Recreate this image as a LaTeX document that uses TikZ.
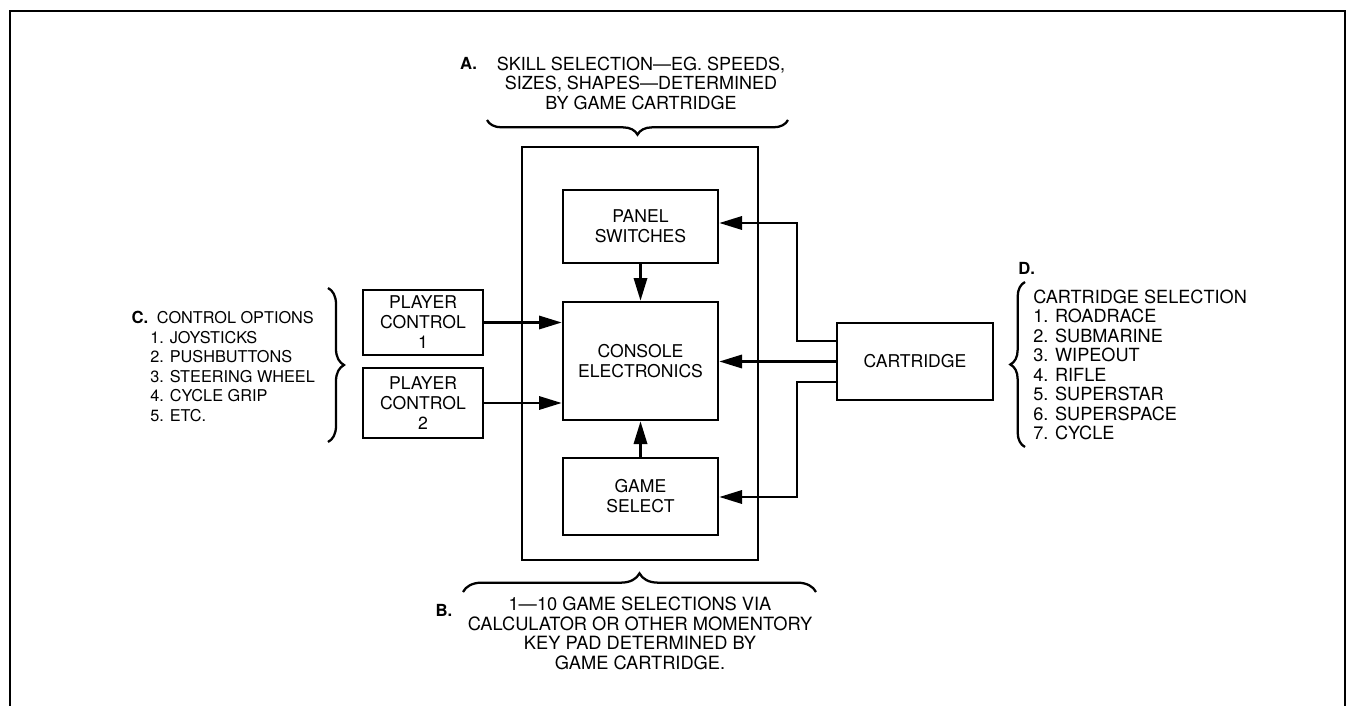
\documentclass[tikz,border=0pt]{standalone}
\usepackage{fontspec}
\setmainfont{TeX Gyre Heros}
\usetikzlibrary{arrows.meta,decorations.pathreplacing}
\begin{document}
\begin{tikzpicture}[x=0.75pt,y=-0.75pt,
  every node/.style={font=\fontsize{13.5}{14.7}\selectfont, inner sep=0pt},
  box/.style={draw, line width=2pt, align=center, inner sep=0pt,
              font=\fontsize{13.2}{15}\selectfont},
  conn/.style={line width=1.7pt},
  arr/.style={conn, -{Triangle[length=17pt,width=10pt]}},
  brc/.style={decorate, decoration={brace, amplitude=#1}, line width=1.7pt},
  lbl/.style={font=\fontsize{12.5}{14.7}\selectfont\bfseries},
  txt/.style={align=left},
]
\useasboundingbox (0,0) rectangle (1353,706);
% frame
\draw[line width=1.6pt] (10,706) -- (10,11) -- (1345,11) -- (1345,706);

% boxes
\node[box, minimum width=177pt, minimum height=309.75pt] (outer) at (640,353.5) {};
\node[box, minimum width=116.25pt, minimum height=54.75pt] (panel) at (640.5,226.5) {PANEL\\SWITCHES};
\node[box, minimum width=116.25pt, minimum height=88.5pt] (console) at (640.5,361) {CONSOLE\\ELECTRONICS};
\node[box, minimum width=116.25pt, minimum height=57.75pt] (game) at (640.5,496.5) {GAME\\SELECT};
\node[box, minimum width=90pt, minimum height=48.75pt] (pc1) at (423,322.5) {PLAYER\\CONTROL\\1};
\node[box, minimum width=90pt, minimum height=52.5pt] (pc2) at (423,403) {PLAYER\\CONTROL\\2};
\node[box, minimum width=117pt, minimum height=57.75pt] (cart) at (915,361.5) {CARTRIDGE};

% connectors
\draw[arr] (panel.south) -- (console.north);
\draw[arr] (game.north) -- (console.south);
\draw[arr] (pc1.east) -- (pc1.east -| console.west);
\draw[arr] (pc2.east) -- (pc2.east -| console.west);
\draw[arr] (cart.west) -- (cart.west -| console.east);
\coordinate (vx) at (797,0);
\coordinate (y1) at (0,341);
\coordinate (y2) at (0,223);
\coordinate (y3) at (0,382);
\coordinate (y4) at (0,497);
\draw[arr] (cart.west |- y1) -| (vx |- y2) -- (panel.east |- y2);
\draw[arr] (cart.west |- y3) -| (vx |- y4) -- (game.east |- y4);

% braces
\draw[brc=11pt] (788,120) -- (487,120);
\draw[brc=14pt] (463,592) -- (816,592);
\draw[brc=12pt] (328,288) -- (328,442);
\draw[brc=11pt] (1025,447) -- (1025,282);

% texts
\node[lbl] (la) at (468.5,63) {A.};
\node[align=center, anchor=north] (ta) at (641,56.5) {SKILL SELECTION—EG. SPEEDS,\\SIZES, SHAPES—DETERMINED\\BY GAME CARTRIDGE};

\node[lbl] (lb) at (444,610) {B.};
\node[align=center, anchor=north, font=\fontsize{13.7}{14.8}\selectfont] (tb) at (640,596.5) {1—10 GAME SELECTIONS VIA\\CALCULATOR OR OTHER MOMENTORY\\KEY PAD DETERMINED BY\\GAME CARTRIDGE.};

\node[lbl, anchor=east] (lc) at (148.5,317) {C.};
\node[txt, anchor=north west, font=\fontsize{12.2}{14.7}\selectfont] (tc) at (150,311) {\hspace{5pt}CONTROL OPTIONS\\1. JOYSTICKS\\2. PUSHBUTTONS\\3. STEERING WHEEL\\4. CYCLE GRIP\\5. ETC.};

\node[lbl, anchor=west] (ld) at (1018,268) {D.};
\node[txt, anchor=north west, font=\fontsize{13.6}{14.6}\selectfont] (td) at (1033,289.5) {CARTRIDGE SELECTION\\1. ROADRACE\\2. SUBMARINE\\3. WIPEOUT\\4. RIFLE\\5. SUPERSTAR\\6. SUPERSPACE\\7. CYCLE};
\end{tikzpicture}
\end{document}
